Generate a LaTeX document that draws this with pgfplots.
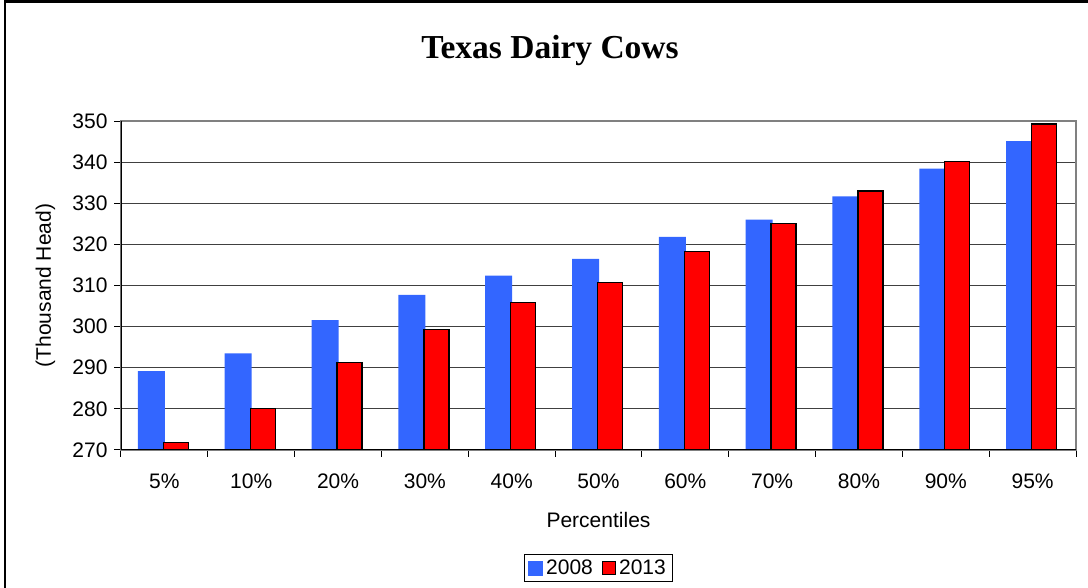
\documentclass[border=0pt]{standalone}
\usepackage{pgfplots}
\pgfplotsset{compat=1.18}
\usepackage{fontspec}
\setmainfont{Liberation Sans}
\newfontfamily\titlefont{Liberation Serif}
\definecolor{blueC}{HTML}{3366FF}
\definecolor{redC}{HTML}{FF0000}
\begin{document}
\begin{tikzpicture}
\useasboundingbox (0pt,0pt) rectangle (1088pt,588pt);
\draw[line width=2.2pt] (5pt,0pt) -- (5pt,586.5pt) -- (1088pt,586.5pt);
\node[anchor=base, font=\titlefont\bfseries\fontsize{33.5}{38}\selectfont] at (550pt,529pt) {Texas Dairy Cows};
\begin{axis}[
  at={(121pt,138pt)}, anchor=south west,
  width=955pt, height=329pt, scale only axis,
  xmin=-0.5, xmax=10.5, ymin=270, ymax=350,
  ytick={270,280,...,350},
  xtick={-0.5,0.5,...,10.5}, xticklabels={},
  extra x ticks={0,1,2,3,4,5,6,7,8,9,10},
  extra x tick labels={5\%,10\%,20\%,30\%,40\%,50\%,60\%,70\%,80\%,90\%,95\%},
  extra x tick style={major tick length=0pt, grid=none},
  tick align=outside, major tick length=7pt,
  xtick pos=bottom, ytick pos=left,
  ymajorgrids, major grid style={black!75, line width=1pt},
  axis line style={draw=black!50, line width=1.2pt},
  tick style={black, line width=1pt},
  /pgf/number format/assume math mode=true,
  tick label style={font=\fontsize{21}{25}\selectfont},
  xticklabel style={yshift=-20pt},
  yticklabel style={xshift=-3pt},
  label style={font=\fontsize{21}{25}\selectfont},
  xlabel={Percentiles},
  xlabel style={at={(axis description cs:0.5,-0.2128)}, anchor=center},
  ylabel={(Thousand Head)},
  ylabel style={at={(axis description cs:-0.0790,0.5)}, anchor=center},
  legend columns=2,
  legend style={at={(axis description cs:0.5,-0.3587)}, anchor=center,
    draw=black, line width=1pt, font=\fontsize{21}{25}\selectfont,
    inner xsep=4pt, inner ysep=3pt, row sep=0pt,
    nodes={inner xsep=3pt, inner ysep=2pt},
    /tikz/every even column/.append style={column sep=6pt}},
]
\addplot[ybar, bar width=27pt, bar shift=-13pt, fill=blueC, draw=none,
  legend image code/.code={\fill[blueC] (0pt,-7.5pt) rectangle (15pt,7.5pt);}]
  coordinates {(0,289.2) (1,293.5) (2,301.6) (3,307.7) (4,312.4) (5,316.5) (6,321.8) (7,326.0) (8,331.7) (9,338.4) (10,345.1)};
\addlegendentry{2008}
\addplot[ybar, bar width=25pt, bar shift=11.5pt, fill=redC, draw=black, line width=1.3pt,
  legend image code/.code={\draw[fill=redC, draw=black, line width=1.2pt] (0.5pt,-6.5pt) rectangle (13.5pt,6.5pt);}]
  coordinates {(0,271.8) (1,280.1) (2,291.3) (3,299.3) (4,305.9) (5,310.8) (6,318.3) (7,325.0) (8,333.0) (9,340.1) (10,349.3)};
\addlegendentry{2013}
\draw[black, line width=1.2pt] (rel axis cs:0,1) -- (rel axis cs:0,0) -- (rel axis cs:1,0);
\end{axis}
\end{tikzpicture}
\end{document}
